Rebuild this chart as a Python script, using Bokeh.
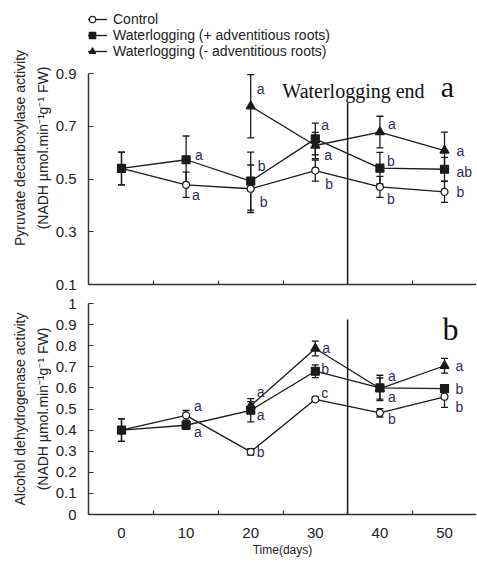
from bokeh.plotting import figure
from bokeh.models import (ColumnDataSource, Whisker, TeeHead, FixedTicker, Legend,
                          LegendItem, Label, CustomJSTickFormatter)
from bokeh.layouts import column
from bokeh.embed import file_html
from bokeh.resources import INLINE
from bokeh.core.properties import value

# ---------------- data ----------------
days = [0, 10, 20, 30, 40, 50]
tri_days = [20, 30, 40, 50]
x_tick_labels = ["0", "10", "20", "30", "40", "50"]
x_minor_ticks = [5, 15, 25, 35, 45]
waterlogging_end_day = 35

# panel a: pyruvate decarboxylase
pdc_ctrl = [0.540, 0.478, 0.463, 0.532, 0.470, 0.451]
pdc_ctrl_err = [0.062, 0.048, 0.090, 0.040, 0.040, 0.040]
pdc_plus = [0.540, 0.573, 0.492, 0.652, 0.541, 0.537]
pdc_plus_err = [0.062, 0.090, 0.110, 0.060, 0.060, 0.045]
pdc_minus = [0.776, 0.627, 0.678, 0.608]
pdc_minus_err = [0.120, 0.050, 0.060, 0.070]
pdc_ctrl_letters = ["", "a", "b", "b", "b", "b"]
pdc_plus_letters = ["", "a", "b", "a", "b", "ab"]
pdc_minus_letters = ["a", "a", "a", "a"]
pdc_yticks = [0.1, 0.3, 0.5, 0.7, 0.9]

# panel b: alcohol dehydrogenase
adh_ctrl = [0.400, 0.470, 0.297, 0.546, 0.482, 0.558]
adh_ctrl_err = [0.053, 0.023, 0.015, 0.010, 0.020, 0.050]
adh_plus = [0.400, 0.423, 0.494, 0.679, 0.600, 0.597]
adh_plus_err = [0.053, 0.020, 0.055, 0.030, 0.060, 0.015]
adh_minus = [0.515, 0.787, 0.597, 0.705]
adh_minus_err = [0.020, 0.035, 0.050, 0.035]
adh_ctrl_letters = ["", "a", "b", "c", "b", "b"]
adh_plus_letters = ["", "a", "a", "b", "a", "b"]
adh_minus_letters = ["a", "a", "a", "a"]
adh_yticks = [0, 0.1, 0.2, 0.3, 0.4, 0.5, 0.6, 0.7, 0.8, 0.9, 1.0]

# letter nudges (pixels)
pdc_ctrl_dx = [0, 6, 9, 10, 7, 12]
pdc_ctrl_dy = [0, 10, 13, 13, 12, 0]
pdc_plus_dx = [0, 9, 7, 6, 7, 12]
pdc_plus_dy = [0, -5, -15, -14, -7, 3]
pdc_minus_dx = [6, 9, 8, 12]
pdc_minus_dy = [-17, 9, -8, 0]
adh_ctrl_dx = [0, 8, 6, 6, 8, 11]
adh_ctrl_dy = [0, -9, 0, -6, 6, 10]
adh_plus_dx = [0, 8, 6, 6, 8, 11]
adh_plus_dy = [0, 7, 5, -2, -12, 0]
adh_minus_dx = [6, 7, 8, 11]
adh_minus_dy = [-14, 0, 8, 0]

series_names = ["Control", "Waterlogging (+ adventitious roots)",
                "Waterlogging (- adventitious roots)"]

SANS = "Liberation Sans"
SERIF = "Liberation Serif"
INK = "#1a1a1a"
AXIS = "#333333"
LETTER = "#2e2e5a"
X_RANGE = (-5.108, 54.95)

fmt = CustomJSTickFormatter(code="return tick.toFixed(1).replace(/\\.0$/, '');")


def style(p, yticks, ylab, show_x_labels):
    p.outline_line_color = None
    p.xgrid.visible = False
    p.ygrid.visible = False
    for ax in (p.xaxis[0], p.yaxis[0]):
        ax.axis_line_color = AXIS
        ax.axis_line_width = 1.5
        ax.major_tick_line_color = AXIS
        ax.minor_tick_line_color = AXIS
        ax.major_tick_line_width = 1.2
        ax.minor_tick_line_width = 1.2
        ax.major_label_text_font = SANS
        ax.major_label_text_font_size = "15px"
        ax.major_label_text_color = "#222222"
        ax.axis_label_text_font = SANS
        ax.axis_label_text_font_style = "normal"
        ax.axis_label_text_color = "#222222"
    xa = p.xaxis[0]
    xa.major_tick_in = 0
    xa.major_tick_out = 0
    xa.minor_tick_in = 4
    xa.minor_tick_out = 0
    if show_x_labels:
        xa.ticker = FixedTicker(ticks=days, minor_ticks=x_minor_ticks)
        xa.major_label_overrides = {d: t for d, t in zip(days, x_tick_labels)}
        xa.major_label_text_font_size = "15px"
        xa.major_label_standoff = 13
        xa.axis_label = "Time(days)"
        xa.axis_label_text_font_size = "12px"
        xa.axis_label_standoff = 2
    else:
        xa.ticker = FixedTicker(ticks=[], minor_ticks=x_minor_ticks)
        xa.major_label_standoff = 0
    ya = p.yaxis[0]
    ya.ticker = FixedTicker(ticks=yticks)
    ya.formatter = fmt
    ya.bounds = (yticks[0], yticks[-1])
    ya.major_tick_in = 5
    ya.major_tick_out = 0
    ya.minor_tick_in = 0
    ya.minor_tick_out = 0
    ya.major_label_standoff = 12
    ya.axis_label = ylab
    ya.axis_label_text_font_size = "14px"
    ya.axis_label_text_line_height = 1.4
    ya.axis_label_standoff = 2


def add_series(p, xs, ys, errs, marker, fill, size, letters, dx, dy):
    src = ColumnDataSource(dict(
        x=xs, y=ys,
        upper=[v + e for v, e in zip(ys, errs)],
        lower=[v - e for v, e in zip(ys, errs)]))
    ln = p.line("x", "y", source=src, line_color=INK, line_width=1.3)
    w = Whisker(source=src, base="x", upper="upper", lower="lower",
                line_color=INK, line_width=1.3,
                upper_head=TeeHead(size=7, line_color=INK, line_width=1.3),
                lower_head=TeeHead(size=7, line_color=INK, line_width=1.3))
    p.add_layout(w)
    sc = p.scatter("x", "y", source=src, marker=marker, size=size,
                   fill_color=fill, line_color=INK, line_width=1.2)
    keep = [i for i, t in enumerate(letters) if t]
    lsrc = ColumnDataSource(dict(
        x=[xs[i] for i in keep], y=[ys[i] for i in keep],
        letter=[letters[i] for i in keep],
        dx=[dx[i] for i in keep], dy=[dy[i] for i in keep]))
    p.text("x", "y", text="letter", source=lsrc, x_offset="dx", y_offset="dy",
           text_font=value(SANS), text_font_size="14px", text_color=LETTER,
           text_align="left", text_baseline="middle")
    return ln, sc


FRAME_W = 388
PX_PER_UNIT_A = 263.75
top_extra = 62 / PX_PER_UNIT_A   # room above the 0.9 tick for the legend

p1 = figure(frame_width=FRAME_W, frame_height=273,
            x_range=X_RANGE, y_range=(0.1, 0.9 + top_extra),
            output_backend="svg", toolbar_location=None,
            min_border_left=88, min_border_right=0, min_border_top=11,
            min_border_bottom=10)
style(p1, pdc_yticks,
      "Pyruvate decarboxylase activity\n(NADH \u00b5mol.min\u207b\u00b9g\u207b\u00b9 FW)",
      False)
p1.segment(x0=[waterlogging_end_day], y0=[0.1], x1=[waterlogging_end_day], y1=[0.79],
           line_color=INK, line_width=1.5)
r1 = add_series(p1, days, pdc_ctrl, pdc_ctrl_err, "circle", "white", 7,
                pdc_ctrl_letters, pdc_ctrl_dx, pdc_ctrl_dy)
r2 = add_series(p1, days, pdc_plus, pdc_plus_err, "square", INK, 8,
                pdc_plus_letters, pdc_plus_dx, pdc_plus_dy)
r3 = add_series(p1, tri_days, pdc_minus, pdc_minus_err, "triangle", INK, 9,
                pdc_minus_letters, pdc_minus_dx, pdc_minus_dy)
p1.add_layout(Label(x=24.9, y=0.832, text="Waterlogging end", text_font=SERIF,
                    text_font_size="20px", text_color="#111111",
                    text_baseline="alphabetic"))
p1.add_layout(Label(x=49.4, y=0.85, text="a", text_font=SERIF,
                    text_font_size="30px", text_color="#111111",
                    text_baseline="alphabetic"))

legend = Legend(items=[LegendItem(label=n, renderers=list(r))
                       for n, r in zip(series_names, [r1, r2, r3])],
                location=(-11, 225))
legend.background_fill_alpha = 0
legend.border_line_alpha = 0
legend.label_text_font = SANS
legend.label_text_font_size = "14px"
legend.label_text_color = "#222222"
legend.glyph_width = 30
legend.glyph_height = 16
legend.label_height = 16
legend.spacing = 0
legend.padding = 0
legend.margin = 0
legend.label_standoff = 6
p1.add_layout(legend)

p2 = figure(frame_width=FRAME_W, frame_height=211, x_range=X_RANGE, y_range=(0, 1),
            output_backend="svg", toolbar_location=None,
            min_border_left=88, min_border_right=0, min_border_top=9,
            min_border_bottom=40)
style(p2, adh_yticks,
      "Alcohol dehydrogenase activity\n(NADH \u00b5mol.min\u207b\u00b9g\u207b\u00b9 FW)",
      True)
p2.segment(x0=[waterlogging_end_day], y0=[0], x1=[waterlogging_end_day], y1=[0.924],
           line_color=INK, line_width=1.5)
add_series(p2, days, adh_ctrl, adh_ctrl_err, "circle", "white", 7,
           adh_ctrl_letters, adh_ctrl_dx, adh_ctrl_dy)
add_series(p2, days, adh_plus, adh_plus_err, "square", INK, 8,
           adh_plus_letters, adh_plus_dx, adh_plus_dy)
add_series(p2, tri_days, adh_minus, adh_minus_err, "triangle", INK, 9,
           adh_minus_letters, adh_minus_dx, adh_minus_dy)
p2.add_layout(Label(x=49.7, y=0.877, text="b", text_font=SERIF,
                    text_font_size="32px", text_color="#111111",
                    text_baseline="alphabetic"))

layout = column(p1, p2, spacing=0)
open("out.html", "w").write(file_html(layout, INLINE))
